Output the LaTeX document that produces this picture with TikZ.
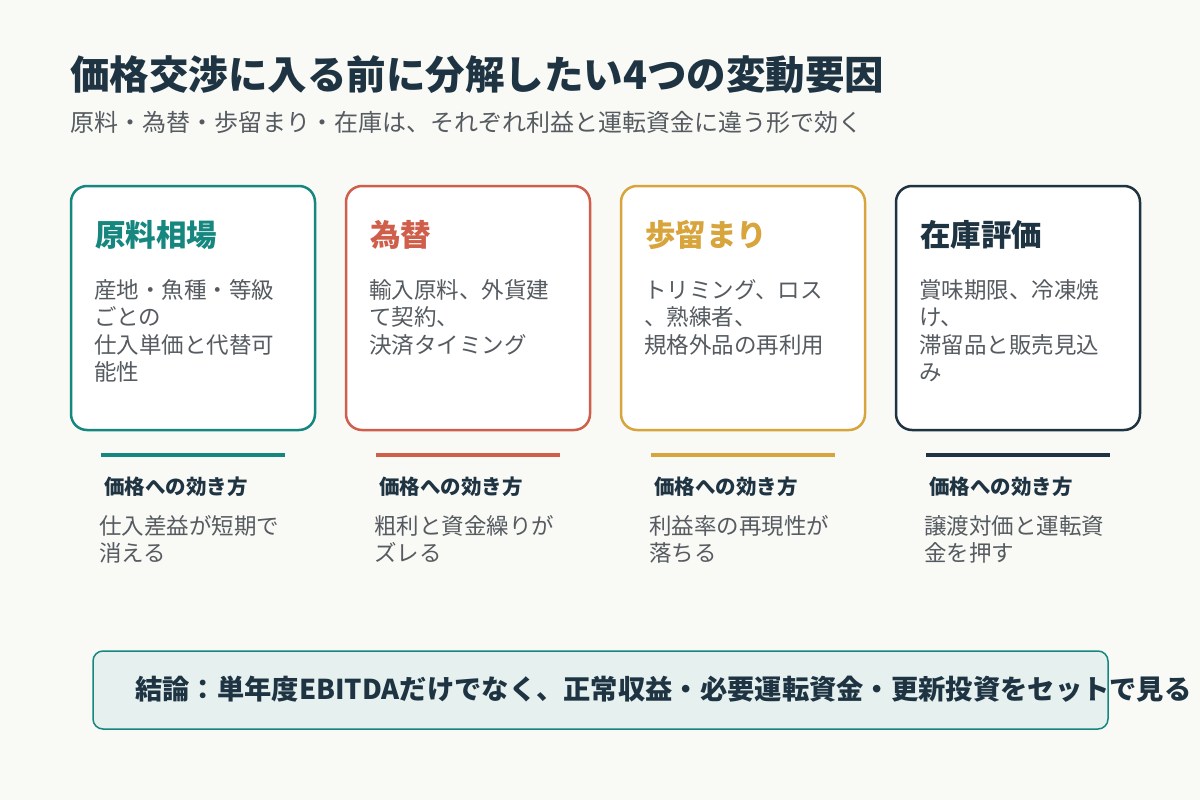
\documentclass[tikz,border=0pt]{standalone}
\usepackage{fontspec}
\setmainfont{Noto Sans CJK JP}
\definecolor{bg}{HTML}{F9F9F5}
\definecolor{navy}{HTML}{1F3442}
\definecolor{teal}{HTML}{15877F}
\definecolor{redc}{HTML}{CF5E4B}
\definecolor{gold}{HTML}{D8A43C}
\definecolor{txt}{HTML}{555B60}
\definecolor{boxf}{HTML}{E6F1EF}
\begin{document}
\begin{tikzpicture}[x=1pt,y=-1pt,
 card/.style={draw=#1,line width=2.5pt,rounded corners=16pt,fill=white},
 ctitle/.style={anchor=west,font=\fontsize{30.5}{34}\selectfont\bfseries,text=#1,inner sep=0},
 body/.style={anchor=north west,font=\fontsize{22.5}{27.5}\selectfont,text=txt,align=left,inner sep=0},
 bar/.style={draw=#1,line width=4pt},
 eff/.style={anchor=west,font=\fontsize{20.5}{24}\selectfont\bfseries,text=navy,inner sep=0},
 effb/.style={anchor=north west,font=\fontsize{22.5}{27.5}\selectfont,text=txt,align=left,inner sep=0}]
\useasboundingbox (0,0) rectangle (1200,800);
\fill[bg] (0,0) rectangle (1200,800);
\node[anchor=west,inner sep=0,font=\fontsize{39.5}{44}\selectfont\bfseries,text=navy] (title) at (70,75) {価格交渉に入る前に分解したい4つの変動要因};
\node[anchor=west,inner sep=0,font=\fontsize{24}{28}\selectfont,text=txt] (sub) at (70,122) {原料・為替・歩留まり・在庫は、それぞれ利益と運転資金に違う形で効く};
\foreach \i/\x/\c/\t/\b/\e in {
 1/71/teal/原料相場/{産地・魚種・等級\\ごとの\\仕入単価と代替可\\能性}/{仕入差益が短期で\\消える},
 2/346/redc/為替/{輸入原料、外貨建\\て契約、\\決済タイミング}/{粗利と資金繰りが\\ズレる},
 3/621/gold/歩留まり/{トリミング、ロス\\、熟練者、\\規格外品の再利用}/{利益率の再現性が\\落ちる},
 4/896/navy/在庫評価/{賞味期限、冷凍焼\\け、\\滞留品と販売見込\\み}/{譲渡対価と運転資\\金を押す}}{
 \draw[card=\c] (\x,186) rectangle +(244,244);
 \node[ctitle=\c] (t\i) at (\x+24,235) {\t};
 \node[body] (b\i) at (\x+23,279) {\b};
 \coordinate (l\i) at (\x+30,455);
 \coordinate (r\i) at (\x+214,455);
 \draw[bar=\c] (l\i) -- (r\i);
 \node[eff] (h\i) at (\x+33,487) {価格への効き方};
 \node[effb] (e\i) at (\x+28,515) {\e};
}
\draw[draw=teal,line width=1.5pt,fill=boxf,rounded corners=10pt] (93,651) rectangle (1108,729);
\node[anchor=west,inner sep=0,font=\fontsize{27.3}{30}\selectfont\bfseries,text=navy] (concl) at (135,689) {結論：単年度EBITDAだけでなく、正常収益・必要運転資金・更新投資をセットで見る};
\end{tikzpicture}
\end{document}
